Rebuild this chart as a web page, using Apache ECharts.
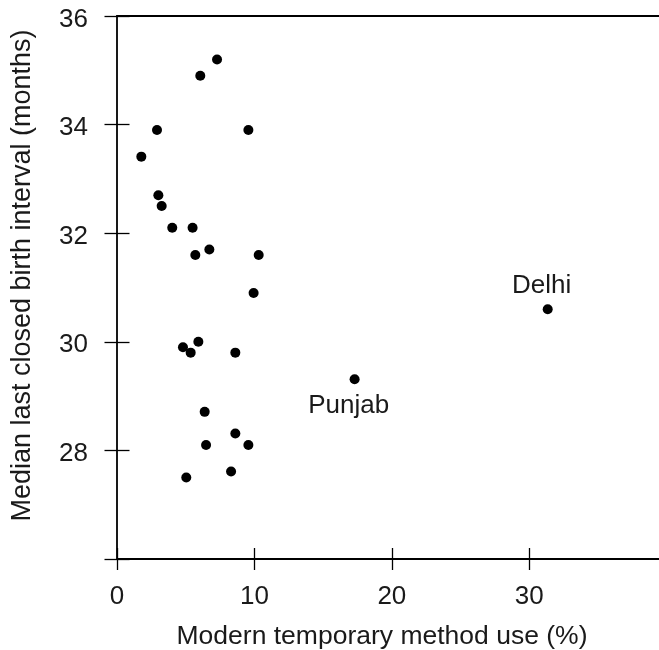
<!DOCTYPE html>
<html>
<head>
<meta charset="utf-8">
<script src="https://cdn.jsdelivr.net/npm/echarts@6/dist/echarts.min.js"></script>
<style>html,body{margin:0;padding:0;background:#fff}#c{width:659px;height:650px}</style>
</head>
<body>
<div id="c"></div>
<script>
// Modern temporary method use (%) and median last closed birth interval (months)
const xValues = [7.28, 6.06, 2.91, 9.56, 1.77, 3.01, 3.25, 4.02, 5.50, 6.72, 5.70, 10.31, 9.94, 5.92, 4.80, 5.36, 8.61, 6.38, 8.61, 6.48, 9.56, 8.30, 5.04, 17.29, 31.34];
const yValues = [35.20, 34.90, 33.90, 33.90, 33.41, 32.70, 32.50, 32.10, 32.10, 31.70, 31.60, 31.60, 30.90, 30.00, 29.90, 29.80, 29.80, 28.71, 28.31, 28.10, 28.10, 27.61, 27.50, 29.31, 30.60];
const pointNames = ["", "", "", "", "", "", "", "", "", "", "", "", "", "", "", "", "", "", "", "", "", "", "", "Punjab", "Delhi"];
const xTicks = [0, 10, 20, 30];
const yTicks = [26, 28, 30, 32, 34, 36];
const yTickLabels = [28, 30, 32, 34, 36];
const xTitle = "Modern temporary method use (%)";
const yTitle = "Median last closed birth interval (months)";

const FONT = '"Liberation Sans", Arial, Helvetica, sans-serif';
const TXT = '#1a1a1a';
const labelOffsets = { "Punjab": [-6, 26.5], "Delhi": [-6, -23.5] };

const data = xValues.map((x, i) => {
  const item = { value: [x, yValues[i]] };
  const n = pointNames[i];
  if (n) {
    item.label = {
      show: true, formatter: n, position: 'inside', offset: labelOffsets[n],
      color: TXT, fontSize: 26, fontFamily: FONT, textBorderWidth: 0, opacity: 1
    };
  }
  return item;
});

const GW = 544, GH = 543;
const X_MIN = 0, X_MAX = GW / 13.743, Y_MIN = 26, Y_MAX = 36;
// ticks cross the frame: each axis is shifted into the plot by half a tick
const XT = 11, YT = 12.5;

const chart = echarts.init(document.getElementById('c'), null, { renderer: 'canvas' });
chart.setOption({
  animation: false,
  backgroundColor: '#fff',
  grid: [{
    left: 117, top: 16, width: GW, height: GH,
    outerBoundsMode: 'none', containLabel: false,
    show: true, borderColor: '#000', borderWidth: 1.8, backgroundColor: 'transparent'
  }],
  xAxis: [{
    type: 'value', position: 'bottom', offset: -XT, min: X_MIN, max: X_MAX,
    axisLine: { show: false, onZero: false },
    axisTick: { show: true, inside: false, length: 2 * XT, customValues: xTicks, lineStyle: { color: '#000', width: 1.3 } },
    axisLabel: { show: true, customValues: xTicks, margin: 25 + XT, color: TXT, fontSize: 26, fontFamily: FONT },
    splitLine: { show: false },
    name: xTitle, nameLocation: 'middle', nameGap: 64 + XT,
    nameTextStyle: { color: TXT, fontSize: 26.5, fontFamily: FONT, padding: [0, 14, 0, 0] }
  }],
  yAxis: [{
    type: 'value', position: 'left', offset: -YT, min: Y_MIN, max: Y_MAX,
    axisLine: { show: false, onZero: false },
    axisTick: { show: true, inside: false, length: 2 * YT, customValues: yTicks, lineStyle: { color: '#000', width: 1.3 } },
    axisLabel: {
      show: true, customValues: yTickLabels, margin: 29 + YT,
      formatter: '{a|{value}}',
      rich: { a: { color: TXT, fontSize: 26, fontFamily: FONT, lineHeight: 26, padding: [7, 0, 0, 0] } }
    },
    splitLine: { show: false },
    name: yTitle, nameLocation: 'middle', nameGap: 81 + YT,
    nameTextStyle: { color: TXT, fontSize: 27, fontFamily: FONT, padding: [0, 0, 0, 24] }
  }],
  series: [{
    type: 'scatter',
    symbol: 'circle', symbolSize: 10,
    itemStyle: { color: '#000', opacity: 1 },
    clip: false,
    data: data
  }]
});
</script>
</body>
</html>
